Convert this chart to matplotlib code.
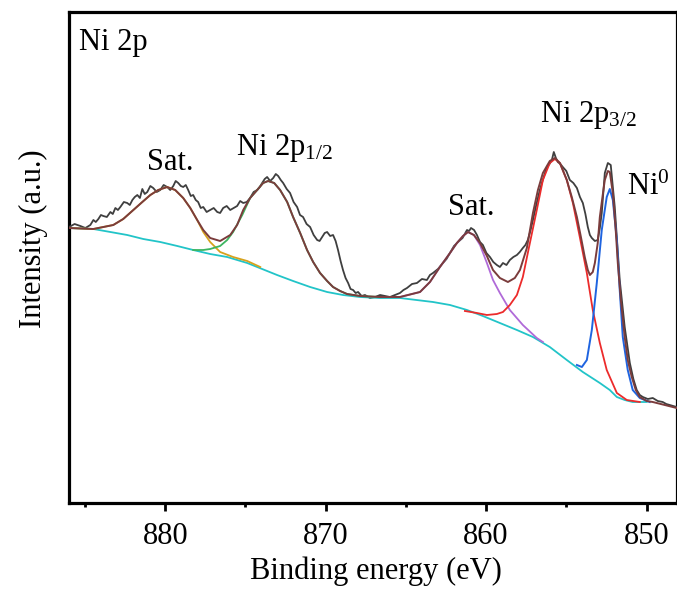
import matplotlib
matplotlib.use("Agg")
import matplotlib.pyplot as plt

plt.rcParams['font.family'] = ['Liberation Serif', 'DejaVu Serif']
plt.rcParams['mathtext.fontset'] = 'custom'
plt.rcParams['mathtext.rm'] = 'Liberation Serif'
plt.rcParams['mathtext.it'] = 'Liberation Serif:italic'
plt.rcParams['mathtext.bf'] = 'Liberation Serif:bold'

# ---- measured spectrum (binding energy eV, intensity a.u.) ----
raw_e = [886.0, 885.65, 885.29, 884.98, 884.67, 884.48, 884.33, 884.17, 884.01, 883.86,
         883.64, 883.42, 883.27, 883.11, 882.95, 882.80, 882.58, 882.37, 882.21, 882.05,
         881.90, 881.74, 881.58, 881.43, 881.28, 881.12, 880.93, 880.75, 880.53, 880.31,
         880.10, 879.88, 879.69, 879.50, 879.35, 879.19, 879.03, 878.88, 878.72, 878.57,
         878.41, 878.26, 878.10, 877.95, 877.79, 877.63, 877.42, 877.20, 876.98, 876.76,
         876.58, 876.39, 876.17, 875.95, 875.73, 875.52, 875.33, 875.14, 874.92, 874.71,
         874.49, 874.27, 874.11, 873.96, 873.80, 873.65, 873.46, 873.27, 873.11, 872.96,
         872.80, 872.65, 872.43, 872.22, 872.00, 871.78, 871.60, 871.41, 871.19, 870.97,
         870.75, 870.53, 870.38, 870.22, 870.06, 869.91, 869.72, 869.54, 869.38, 869.23,
         869.07, 868.92, 868.76, 868.60, 868.45, 868.29, 868.13, 867.98, 867.76, 867.55,
         867.24, 866.92, 866.61, 866.30, 865.99, 865.68, 865.52, 865.37, 865.15, 864.93,
         864.62, 864.31, 864.00, 863.69, 863.50, 863.31, 863.00, 862.69, 862.47, 862.25,
         862.00, 861.75, 861.47, 861.19, 861.06, 860.94, 860.75, 860.57, 860.38, 860.20,
         859.98, 859.76, 859.55, 859.33, 859.14, 858.95, 858.73, 858.52, 858.30, 858.08,
         857.90, 857.71, 857.55, 857.40, 857.24, 857.08, 856.86, 856.65, 856.43, 856.21,
         856.05, 855.90, 855.78, 855.65, 855.53, 855.37, 855.22, 855.00, 854.78, 854.56,
         854.34, 854.15, 853.97, 853.81, 853.66, 853.53, 853.41, 853.22, 853.04, 852.91,
         852.79, 852.60, 852.41, 852.23, 851.98, 851.67, 851.36, 851.04, 850.82, 850.61,
         850.42, 850.23, 849.92, 849.61, 849.30, 848.99, 848.77, 848.55, 848.33, 848.12]
raw_i = [276, 279, 277, 275, 278, 283, 281, 284, 288, 287,
         286, 291, 289, 295, 293, 296, 301, 300, 298, 303,
         306, 308, 305, 314, 309, 311, 317, 315, 311, 313,
         318, 316, 313, 317, 322, 320, 317, 316, 318, 313,
         307, 308, 303, 301, 295, 296, 291, 293, 295, 291,
         290, 295, 297, 293, 295, 297, 302, 300, 301, 305,
         311, 313, 316, 320, 324, 326, 322, 325, 329, 327,
         323, 320, 314, 310, 301, 296, 288, 286, 279, 276,
         268, 263, 262, 266, 270, 271, 267, 268, 262, 253,
         242, 233, 225, 220, 214, 213, 210, 211, 207, 208,
         205, 206, 208, 207, 206, 208, 209, 210, 213, 215,
         219, 220, 224, 223, 228, 230, 234, 240, 244, 250,
         257, 261, 265, 273, 272, 275, 273, 268, 261, 258,
         250, 246, 241, 238, 236, 240, 238, 243, 246, 248,
         251, 255, 258, 263, 272, 283, 299, 313, 325, 336,
         339, 343, 351, 345, 341, 339, 336, 332, 323, 320,
         315, 306, 300, 289, 276, 268, 265, 262, 263, 275,
         290, 330, 340, 338, 296, 223, 176, 140, 124, 113,
         108, 106, 104, 105, 102, 101, 99, 98, 97, 96]

# ---- fitted envelope ----
env_e = [886.0, 884.48, 883.24, 882.62, 881.99, 881.43, 880.93, 880.44, 879.88, 879.38,
         878.88, 878.44, 878.01, 877.63, 877.20, 876.58, 875.95, 875.52, 875.14, 874.71,
         874.27, 873.90, 873.59, 873.21, 872.84, 872.40, 872.03, 871.59, 871.16, 870.78,
         870.35, 869.91, 869.54, 869.10, 868.67, 867.86, 866.61, 865.37, 864.12, 863.50,
         862.88, 862.25, 861.82, 861.44, 861.13, 860.76, 860.38, 859.95, 859.57, 859.14,
         858.64, 858.21, 857.89, 857.46, 857.08, 856.77, 856.46, 856.03, 855.71, 855.40,
         854.97, 854.66, 854.34, 854.09, 853.85, 853.66, 853.53, 853.35, 853.22, 853.04,
         852.91, 852.73, 852.60, 852.41, 852.29, 852.10, 851.92, 851.79, 851.60, 851.36,
         851.17, 850.92, 850.67, 850.42, 849.99, 849.61, 848.86, 848.12]
env_i = [275, 274, 278, 284, 293, 301, 308, 313, 316, 313,
         305, 295, 283, 273, 265, 262, 268, 278, 293, 305,
         313, 320, 322, 320, 313, 301, 286, 270, 253, 241,
         230, 222, 216, 212, 209, 207, 206, 206, 211, 221,
         236, 250, 260, 267, 271, 268, 260, 247, 233, 225,
         221, 225, 233, 255, 290, 313, 330, 342, 345, 340,
         323, 306, 286, 266, 246, 233, 228, 231, 240, 260,
         286, 308, 323, 332, 331, 310, 273, 240, 203, 166,
         143, 126, 113, 106, 102, 101, 98, 95]

# ---- Shirley background ----
bg_e = [886.0, 884.48, 883.42, 882.37, 881.37, 880.31, 879.25, 878.26, 877.20, 876.14,
        874.89, 873.96, 873.03, 872.03, 870.97, 869.91, 868.92, 867.86, 866.61, 865.37,
        863.31, 862.25, 861.19, 860.20, 859.14, 858.08, 857.08, 856.03, 854.97, 853.97,
        852.91, 852.29, 851.85, 851.36, 850.86, 849.99]
bg_i = [275, 274, 271, 268, 264, 261, 257, 253, 249, 246,
        240, 234, 228, 222, 216, 211, 208, 206, 205, 205,
        201, 198, 193, 187, 180, 173, 166, 156, 143, 131,
        120, 113, 106, 103, 101, 101]

# ---- components ----
sat1_e = [886.0, 884.48, 883.24, 882.62, 881.99, 881.43, 880.93, 880.44, 879.88, 879.38,
          878.88, 878.44, 878.01, 877.63, 877.20, 876.58, 875.77, 874.89, 874.08]
sat1_i = [275, 274, 278, 284, 293, 301, 308, 313, 316, 313,
          305, 295, 283, 271, 261, 251, 246, 242, 236]

p12_e = [878.26, 877.63, 877.20, 876.58, 876.14, 875.77, 875.20, 874.71, 874.27, 873.90,
         873.59, 873.21, 872.84, 872.40, 872.03, 871.59, 871.16, 870.78, 870.35, 869.91,
         869.54, 869.10, 868.67, 867.86, 866.61]
p12_i = [253, 253, 254, 257, 263, 271, 288, 305, 313, 320,
         322, 320, 313, 301, 286, 270, 253, 241, 230, 222,
         216, 212, 209, 207, 206]

sat2_e = [866.61, 865.37, 864.12, 863.50, 862.88, 862.25, 861.82, 861.44, 861.13, 860.76,
          860.38, 859.95, 859.57, 859.14, 858.52, 857.71, 856.84, 856.46]
sat2_i = [206, 206, 211, 221, 236, 250, 260, 267, 271, 268,
          258, 240, 223, 210, 193, 178, 165, 161]

p32_e = [861.32, 860.57, 859.95, 859.33, 858.95, 858.52, 858.08, 857.71, 857.27, 856.84,
         856.46, 856.03, 855.71, 855.40, 854.97, 854.59, 854.16, 853.72, 853.35, 852.91,
         852.48, 851.85, 851.23, 850.42]
p32_i = [192, 190, 188, 189, 191, 198, 208, 226, 260, 293,
         323, 340, 344, 340, 323, 300, 266, 230, 193, 160,
         133, 110, 103, 101]

ni0_e = [854.34, 854.03, 853.72, 853.41, 853.10, 852.79, 852.48, 852.29, 852.10, 851.85,
         851.67, 851.48, 851.17, 850.86, 850.42, 849.80]
ni0_i = [138, 136, 143, 173, 220, 273, 306, 314, 303, 263,
         213, 166, 133, 113, 105, 101]

xticks_major = [880, 870, 860, 850]
xticks_minor = [885, 875, 865, 855]

FS = 22
fig = plt.figure(figsize=(6.77, 5.90), dpi=100)
ax = fig.add_axes([69 / 677, 87 / 590, 608 / 677, 491 / 590])

ax.plot(raw_e, raw_i, color='#3f3f3f', lw=1.3, zorder=3)
ax.plot(bg_e, bg_i, color='#22c4c8', lw=1.3, zorder=4)
ax.plot(sat1_e, sat1_i, color='#d6a21e', lw=1.3, zorder=4)
ax.plot(p12_e, p12_i, color='#3db560', lw=1.3, zorder=4)
ax.plot(sat2_e, sat2_i, color='#b06ad8', lw=1.3, zorder=4)
ax.plot(p32_e, p32_i, color='#ec2b2b', lw=1.3, zorder=4)
ax.plot(ni0_e, ni0_i, color='#1f64e0', lw=1.4, zorder=4)
ax.plot(env_e, env_i, color='#7b3c3c', lw=1.4, zorder=5)

ax.set_xlim(886.0, 848.1)
ax.set_ylim(0, 491)
ax.set_xticks(xticks_major)
ax.set_xticks(xticks_minor, minor=True)
ax.set_yticks([])
ax.tick_params(axis='x', which='major', direction='out', length=6, width=2,
               labelsize=FS, pad=8)
ax.tick_params(axis='x', which='minor', direction='out', length=3, width=2)
for s in ax.spines.values():
    s.set_linewidth(2.3)

fig.text(376 / 677, 1 - 579 / 590, 'Binding energy (eV)', fontsize=FS,
         ha='center', va='baseline')
fig.text(33 / 677, 1 - 239 / 590, 'Intensity (a.u.)', fontsize=FS,
         ha='center', va='center', rotation=90)

ax.text(885.36, 453, 'Ni 2p', fontsize=FS, ha='left', va='baseline')
ax.text(879.69, 333, 'Sat.', fontsize=FS, ha='center', va='baseline')
ax.text(875.58, 348, r'Ni 2p$_{\mathrm{1/2}}$', fontsize=FS, ha='left', va='baseline')
ax.text(856.65, 381, r'Ni 2p$_{\mathrm{3/2}}$', fontsize=FS, ha='left', va='baseline')
ax.text(862.38, 288, 'Sat.', fontsize=FS, ha='left', va='baseline')
ax.text(851.23, 308, r'Ni$^{\mathrm{0}}$', fontsize=FS, ha='left', va='baseline')

fig.savefig('out.png', dpi=100)
